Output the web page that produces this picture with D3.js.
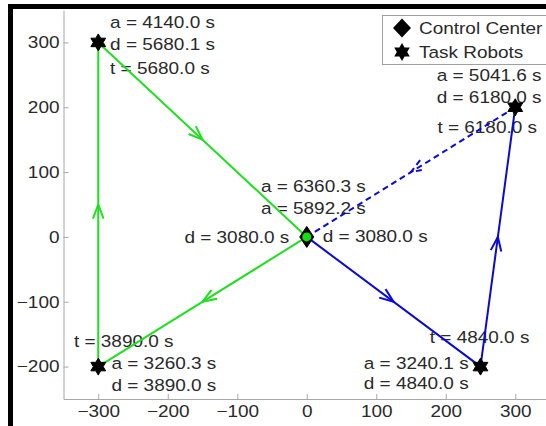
<!DOCTYPE html>
<html>
<head>
<meta charset="utf-8">
<script src="https://cdn.jsdelivr.net/npm/d3@7"></script>
<style>
  html, body { margin: 0; padding: 0; background: #fff; }
  svg { display: block; }
</style>
</head>
<body>
<svg id="chart" width="546" height="426"></svg>
<script>
// ---------------- data ----------------
const xTicks = [-300, -200, -100, 0, 100, 200, 300];
const yTicks = [-200, -100, 0, 100, 200, 300];

const centerX = [0];
const centerY = [0];

const robotX = [-300, -300, 250, 300];
const robotY = [300, -200, -200, 200];

const greenRouteX = [0, -300, -300, 0];
const greenRouteY = [0, -200, 300, 0];

const blueRouteX = [0, 250, 300];
const blueRouteY = [0, -200, 200];

const blueReturnX = [300, 0];
const blueReturnY = [200, 0];

const annotText = [
  "a = 4140.0 s", "d = 5680.1 s", "t = 5680.0 s",
  "a = 6360.3 s", "a = 5892.2 s",
  "d = 3080.0 s", "d = 3080.0 s",
  "a = 5041.6 s", "d = 6180.0 s", "t = 6180.0 s",
  "t = 4840.0 s", "a = 3240.1 s", "d = 4840.0 s",
  "t = 3890.0 s", "a = 3260.3 s", "d = 3890.0 s"
];
const annotX = [-283, -283, -283, -66, -66, -176, 23, 187, 187, 188, 177, 82, 82, -335, -281, -281];
const annotY = [322, 289, 252, 69, 36, -10, -8, 240, 207, 160, -164, -204, -235, -170, -204, -237];

const legendLabels = ["Control Center", "Task Robots"];

// ---------------- layout ----------------
const svg = d3.select("#chart");
const FONT = "'Liberation Sans', Arial, Helvetica, sans-serif";
const FS = 16.5;
const STRETCH = 1.15;
const GREEN = "#1fe01f";
const BLUE = "#0a0ad6";
const TXT = "#2a2a2a";

const x = d3.scaleLinear().domain([-350, 350]).range([63.5, 550]);
const y = d3.scaleLinear().domain([-250, 350]).range([399, 10]);

svg.append("rect").attr("x", 0).attr("y", 0).attr("width", 546).attr("height", 426).attr("fill", "#fff");

const xAxis = svg.append("g")
  .attr("transform", `translate(0,${y.range()[0]})`)
  .call(d3.axisBottom(x).tickValues(xTicks).tickSizeInner(-5).tickSizeOuter(0).tickPadding(6)
    .tickFormat(d => d < 0 ? "\u2212" + Math.abs(d) : String(d)));
const yAxis = svg.append("g")
  .attr("transform", `translate(${x.range()[0]},0)`)
  .call(d3.axisLeft(y).tickValues(yTicks).tickSizeInner(-5).tickSizeOuter(0).tickPadding(3.5)
    .tickFormat(d => d < 0 ? "\u2212" + Math.abs(d) : String(d)));

[xAxis, yAxis].forEach(a => {
  a.select(".domain").attr("stroke", "#a8a8a8").attr("stroke-width", 1);
  a.selectAll(".tick line").attr("stroke", "#a8a8a8");
  a.selectAll(".tick text")
    .attr("fill", TXT)
    .attr("font-family", FONT)
    .attr("font-size", FS)
    .attr("transform", `scale(${STRETCH},1)`);
});

// ---------------- annotations ----------------
function label(parent, px, py, txt, anchor) {
  parent.append("g")
    .attr("transform", `translate(${px},${py}) scale(${STRETCH},1)`)
    .append("text")
    .attr("x", 0).attr("y", 0)
    .attr("text-anchor", anchor || "start")
    .attr("font-family", FONT)
    .attr("font-size", FS)
    .attr("fill", TXT)
    .text(txt);
}
const annG = svg.append("g");
annotText.forEach((t, i) => label(annG, x(annotX[i]), y(annotY[i]), t));

// ---------------- routes ----------------
const lineGen = d3.line().x(d => x(d[0])).y(d => y(d[1]));
function pts(xs, ys) { return xs.map((v, i) => [v, ys[i]]); }

function arrowHead(g, p0, p1, color, dash) {
  const mx = (x(p0[0]) + x(p1[0])) / 2, my = (y(p0[1]) + y(p1[1])) / 2;
  const ang = Math.atan2(y(p1[1]) - y(p0[1]), x(p1[0]) - x(p0[0]));
  const L = 15, a = 0.36;
  const b1 = [mx - L * Math.cos(ang - a), my - L * Math.sin(ang - a)];
  const b2 = [mx - L * Math.cos(ang + a), my - L * Math.sin(ang + a)];
  g.append("path")
    .attr("d", `M${b1[0]},${b1[1]}L${mx},${my}L${b2[0]},${b2[1]}`)
    .attr("fill", "none").attr("stroke", color).attr("stroke-width", 2)
    .attr("stroke-dasharray", dash || null);
}

const routes = svg.append("g");
function drawRoute(xs, ys, color, dash) {
  const p = pts(xs, ys);
  routes.append("path").attr("d", lineGen(p))
    .attr("fill", "none").attr("stroke", color).attr("stroke-width", 2)
    .attr("stroke-linejoin", "round")
    .attr("stroke-dasharray", dash || null);
  for (let i = 0; i < p.length - 1; i++) arrowHead(routes, p[i], p[i + 1], color, dash);
}
drawRoute(greenRouteX, greenRouteY, GREEN);
drawRoute(blueRouteX, blueRouteY, BLUE);
drawRoute(blueReturnX, blueReturnY, BLUE, "6,4");

// ---------------- markers ----------------
function hexagram(R) {
  const r = R / Math.sqrt(3);
  const p = [];
  for (let k = 0; k < 12; k++) {
    const ang = -Math.PI / 2 + k * Math.PI / 6;
    const rad = k % 2 === 0 ? R : r;
    p.push([rad * Math.cos(ang), rad * Math.sin(ang)]);
  }
  return "M" + p.map(q => q.join(",")).join("L") + "Z";
}
function diamond(w, h) {
  return `M0,${-h / 2}L${w / 2},0L0,${h / 2}L${-w / 2},0Z`;
}

const marks = svg.append("g");
robotX.forEach((v, i) => {
  marks.append("path").attr("d", hexagram(8.5))
    .attr("transform", `translate(${x(v)},${y(robotY[i])})`)
    .attr("fill", "#000").attr("stroke", "#000").attr("stroke-width", 1);
});
centerX.forEach((v, i) => {
  marks.append("path").attr("d", diamond(14, 21))
    .attr("transform", `translate(${x(v)},${y(centerY[i])})`)
    .attr("fill", "#000").attr("stroke", "#000").attr("stroke-width", 1);
  marks.append("circle").attr("cx", x(v)).attr("cy", y(centerY[i])).attr("r", 4.5).attr("fill", "#10e010");
});

// ---------------- legend ----------------
const leg = svg.append("g");
leg.append("rect").attr("x", 382.5).attr("y", 15.5).attr("width", 200).attr("height", 49)
  .attr("fill", "#fff").attr("stroke", "#a0a0a0").attr("stroke-width", 1);
leg.append("path").attr("d", diamond(18, 19)).attr("transform", "translate(402,28)").attr("fill", "#000");
leg.append("path").attr("d", hexagram(9)).attr("transform", "translate(402,52)").attr("fill", "#000");
label(leg, 419, 34, legendLabels[0]);
label(leg, 419, 58, legendLabels[1]);

// ---------------- figure frame ----------------
svg.append("rect").attr("x", 8).attr("y", 4).attr("width", 5).attr("height", 422).attr("fill", "#000");
svg.append("rect").attr("x", 8).attr("y", 4).attr("width", 538).attr("height", 5).attr("fill", "#000");
</script>
</body>
</html>
